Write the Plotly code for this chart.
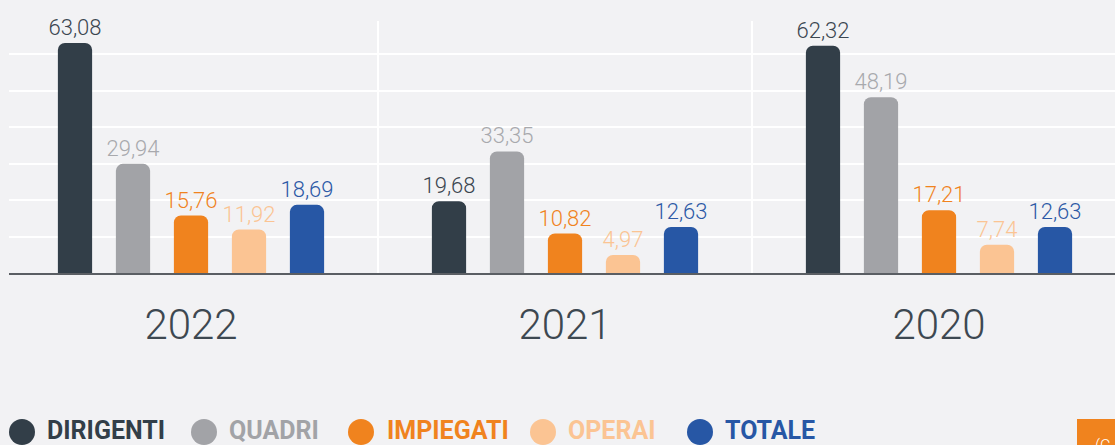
import plotly.graph_objects as go

# Data: indicator values per year and staff category
years = ["2022", "2021", "2020"]
categories = ["DIRIGENTI", "QUADRI", "IMPIEGATI", "OPERAI", "TOTALE"]
dirigenti = [63.08, 19.68, 62.32]
quadri = [29.94, 33.35, 48.19]
impiegati = [15.76, 10.82, 17.21]
operai = [11.92, 4.97, 7.74]
totale = [18.69, 12.63, 12.63]
series = [dirigenti, quadri, impiegati, operai, totale]
grid_values = [10, 20, 30, 40, 50, 60]

bar_colors = ["#323e48", "#a2a3a7", "#f0831e", "#fbc493", "#2757a5"]
label_colors = ["#3b4650", "#a8a9ad", "#f0831e", "#fbc493", "#2c59a6"]
bg = "#f2f2f4"
font_family = "Roboto, Liberation Sans, sans-serif"

W, H = 1115, 445
ML, MR, MT, MB = 9, 0, 21, 172
plot_w = W - ML - MR
plot_h = H - MT - MB
px_per_unit = 3.646
cat_px = 374.0
first_center = 191.0

fig = go.Figure()
for name, vals, col, lcol in zip(categories, series, bar_colors, label_colors):
    fig.add_trace(go.Bar(
        x=years, y=vals, name=name,
        marker=dict(color=col, line=dict(width=0)),
        texttemplate="%{y:.2f}", textposition="outside",
        constraintext="none",
        textfont=dict(family=font_family, size=22, weight=300, color=lcol),
        cliponaxis=False, showlegend=False,
        hoverinfo="skip",
    ))

x_left = -(first_center - ML) / cat_px
x_right = x_left + plot_w / cat_px

fig.update_layout(
    width=W, height=H,
    margin=dict(l=ML, r=MR, t=MT, b=MB, pad=0),
    paper_bgcolor=bg, plot_bgcolor=bg,
    barmode="group", bargap=0.2246, bargroupgap=0.41,
    barcornerradius=7,
    separators=",.",
    xaxis=dict(
        type="category", range=[x_left, x_right],
        showgrid=True, tickson="boundaries", gridcolor="white", gridwidth=2,
        showline=True, linecolor="#5a5e63", linewidth=1.5,
        ticks="", ticklabelstandoff=14,
        tickfont=dict(family=font_family, size=42, weight=300, color="#3d4851"),
        zeroline=False, fixedrange=True,
    ),
    yaxis=dict(
        range=[0, plot_h / px_per_unit],
        tickmode="array", tickvals=grid_values,
        showgrid=True, gridcolor="white", gridwidth=2,
        showticklabels=False, zeroline=False, showline=False,
        fixedrange=True,
    ),
)

# Legend row drawn below the chart: colored dot + bold label per category
legend_dot_px = [22, 204, 361, 543, 700]
legend_text_px = [45, 227, 385, 566, 723]
legend_dot_y_px = 432
legend_text_y_px = 430


def px_to_paper_x(px):
    return (px - ML) / plot_w


def py_to_paper_y(py):
    return (H - MB - py) / plot_h


for name, col, dx, tx in zip(categories, bar_colors, legend_dot_px, legend_text_px):
    fig.add_shape(
        type="circle", xref="paper", yref="paper",
        xsizemode="pixel", ysizemode="pixel",
        xanchor=px_to_paper_x(dx), yanchor=py_to_paper_y(legend_dot_y_px),
        x0=-13, x1=13, y0=-13, y1=13,
        fillcolor=col, line=dict(width=0), layer="above",
    )
    fig.add_annotation(
        text="<b>" + name + "</b>", xref="paper", yref="paper",
        x=px_to_paper_x(tx), y=py_to_paper_y(legend_text_y_px),
        xanchor="left", yanchor="middle", showarrow=False,
        font=dict(family=font_family, size=25, color=col),
    )

# Orange tab in the bottom-right corner
fig.add_shape(
    type="rect", xref="paper", yref="paper",
    x0=px_to_paper_x(1077), x1=px_to_paper_x(1120),
    y0=py_to_paper_y(460), y1=py_to_paper_y(419),
    fillcolor="#f0831e", line=dict(width=0), layer="above",
)
fig.add_annotation(
    text="(C", xref="paper", yref="paper",
    x=px_to_paper_x(1093), y=py_to_paper_y(434),
    xanchor="left", yanchor="top", showarrow=False,
    font=dict(family=font_family, size=16, weight=300, color="white"),
)

fig.write_html("out.html")
